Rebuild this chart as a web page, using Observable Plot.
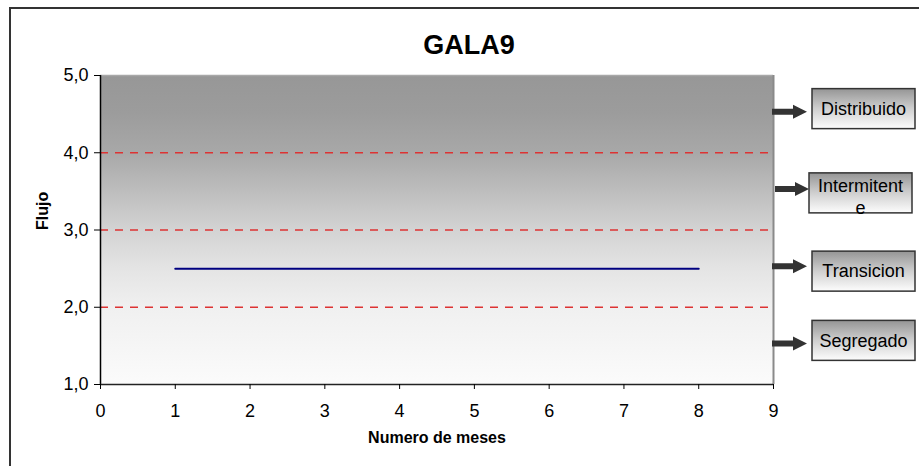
<!DOCTYPE html>
<html>
<head>
<meta charset="utf-8">
<script src="https://cdn.jsdelivr.net/npm/d3@7"></script>
<script src="https://cdn.jsdelivr.net/npm/@observablehq/plot@0.6"></script>
<style>
  html, body { margin: 0; padding: 0; background: white; }
</style>
</head>
<body>
<div id="chart"></div>
<script>
// ---- data ----
const title = "GALA9";
const xLabel = "Numero de meses";
const yLabel = "Flujo";
const months = [1, 2, 3, 4, 5, 6, 7, 8];
const flujo = [2.5, 2.5, 2.5, 2.5, 2.5, 2.5, 2.5, 2.5];
const xTicks = [0, 1, 2, 3, 4, 5, 6, 7, 8, 9];
const yTicks = [1, 2, 3, 4, 5];
const gridLevels = [2, 3, 4];
const zoneNames = [["Distribuido"], ["Intermitent", "e"], ["Transicion"], ["Segregado"]];
const zoneLow = [4, 3, 2, 1];
const zoneHigh = [5, 4, 3, 2];

const series = months.map((m, i) => ({month: m, value: flujo[i]}));

const defs = () => {
  const d = d3.create("svg:defs");
  const g = d.append("linearGradient").attr("id", "bgGrad")
    .attr("x1", 0).attr("y1", 0).attr("x2", 0).attr("y2", 1);
  [[0, "#979797"], [0.12, "#9c9c9c"], [0.25, "#a8a8a8"], [0.5, "#d3d3d3"],
   [0.625, "#e4e4e4"], [0.75, "#f0f0f0"], [1, "#fbfbfb"]]
    .forEach(([o, c]) => g.append("stop").attr("offset", o).attr("stop-color", c));
  const b = d.append("linearGradient").attr("id", "boxGrad")
    .attr("x1", 0).attr("y1", 0).attr("x2", 0).attr("y2", 1);
  [[0, "#959595"], [0.5, "#cfcfcf"], [1, "#fdfdfd"]]
    .forEach(([o, c]) => b.append("stop").attr("offset", o).attr("stop-color", c));
  return d.node();
};

const FONT = "'Liberation Sans', Arial, sans-serif";

const chart = Plot.plot({
  width: 919,
  height: 466,
  marginLeft: 100,
  marginRight: 146,
  marginTop: 75,
  marginBottom: 82,
  style: {fontFamily: FONT, fontSize: "18px", background: "white", color: "black"},
  x: {domain: [0, 9]},
  y: {domain: [1, 5]},
  marks: [
    defs,
    Plot.frame({fill: "url(#bgGrad)", stroke: "none"}),
    Plot.ruleY(gridLevels, {stroke: "#dd3333", strokeWidth: 1.3, strokeDasharray: "8,7"}),
    Plot.ruleY([5], {stroke: "#a8a8a8", strokeWidth: 1.5}),
    Plot.ruleX([9], {stroke: "#8a8a8a", strokeWidth: 2}),
    Plot.ruleX([0], {stroke: "black", strokeWidth: 1.5}),
    Plot.ruleY([1], {stroke: "#222", strokeWidth: 1.5}),
    Plot.lineY(series, {x: "month", y: "value", stroke: "#000080", strokeWidth: 2}),
    Plot.axisY({ticks: yTicks, tickFormat: d => d.toFixed(1).replace(".", ","), tickSize: 6, tickPadding: 6, fontSize: 18, label: null, stroke: "black"}),
    Plot.axisX({ticks: xTicks, tickFormat: d => String(d), tickSize: 5, tickPadding: 15, fontSize: 18, label: null, stroke: "black"}),
    Plot.text([title], {frameAnchor: "top", dx: 32, dy: -22, fontSize: 27, fontWeight: "bold", lineAnchor: "bottom"}),
    Plot.text([yLabel], {frameAnchor: "left", dx: -58, rotate: -90, fontSize: 16, fontWeight: "bold"}),
    Plot.text([xLabel], {frameAnchor: "bottom", dy: 58, fontSize: 16, fontWeight: "bold"})
  ]
});
document.getElementById("chart").appendChild(chart);

// ---- outer chart border and zone annotations ----
const svg = d3.select(chart);
const xs = chart.scale("x"), ys = chart.scale("y");
const xr = xs.apply(9);
svg.append("rect").attr("x", 10).attr("y", 8).attr("width", 1200).attr("height", 1200)
  .attr("fill", "none").attr("stroke", "#333").attr("stroke-width", 2);

const nudge = [-5, 2, 3, -5];
const boxShift = [0, -3, 0, 0];
zoneNames.forEach((lines, i) => {
  const cy = ys.apply((zoneLow[i] + zoneHigh[i]) / 2);
  const ay = cy - 2;
  const g = svg.append("g");
  // arrow
  const ax0 = xr - 1 + (i === 1 ? 3 : 0), ax1 = xr + 34 + (i === 1 ? 2 : 0);
  g.append("path")
    .attr("d", `M${ax0},${ay - 3}H${ax1 - 14}V${ay - 7}L${ax1},${ay}L${ax1 - 14},${ay + 7}V${ay + 3}H${ax0}Z`)
    .attr("fill", "#333");
  // box
  const bx = xr + 39 + boxShift[i], by = cy + nudge[i] - 20;
  g.append("rect").attr("x", bx).attr("y", by).attr("width", 103).attr("height", 40)
    .attr("fill", "url(#boxGrad)").attr("stroke", "#333").attr("stroke-width", 1.5);
  const t = g.append("text").attr("text-anchor", "middle")
    .attr("font-family", FONT).attr("font-size", 18).attr("fill", "black");
  if (lines.length === 1) {
    t.append("tspan").attr("x", bx + 51.5).attr("y", by + 20).attr("dy", "0.35em").text(lines[0]);
  } else {
    t.append("tspan").attr("x", bx + 51.5).attr("y", by + 19).text(lines[0]);
    t.append("tspan").attr("x", bx + 51.5).attr("y", by + 41).text(lines[1]);
  }
});
</script>
</body>
</html>
